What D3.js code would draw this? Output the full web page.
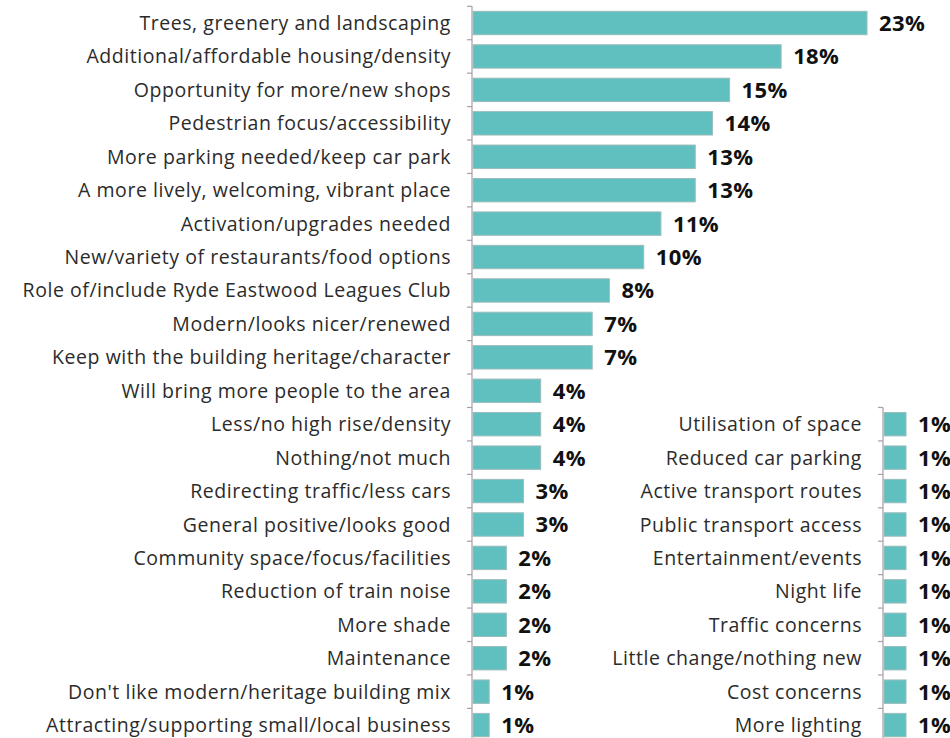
<!DOCTYPE html>
<html>
<head>
<meta charset="utf-8">
<script src="https://cdn.jsdelivr.net/npm/d3@7"></script>
<style>
  html, body { margin: 0; padding: 0; background: #fff; }
  svg { display: block; }
</style>
</head>
<body>
<svg id="chart" width="950" height="738"></svg>
<script>
// Responses, main list (percent of respondents)
const mainCategories = [
  "Trees, greenery and landscaping",
  "Additional/affordable housing/density",
  "Opportunity for more/new shops",
  "Pedestrian focus/accessibility",
  "More parking needed/keep car park",
  "A more lively, welcoming, vibrant place ",
  "Activation/upgrades needed",
  "New/variety of restaurants/food options",
  "Role of/include Ryde Eastwood Leagues Club",
  "Modern/looks nicer/renewed",
  "Keep with the building heritage/character",
  "Will bring more people to the area",
  "Less/no high rise/density",
  "Nothing/not much",
  "Redirecting traffic/less cars",
  "General positive/looks good",
  "Community space/focus/facilities",
  "Reduction of train noise",
  "More shade",
  "Maintenance",
  "Don't like modern/heritage building mix",
  "Attracting/supporting small/local business"
];
const mainValues = [23, 18, 15, 14, 13, 13, 11, 10, 8, 7, 7, 4, 4, 4, 3, 3, 2, 2, 2, 2, 1, 1];

// Responses, smaller mentions
const minorCategories = [
  "Utilisation of space",
  "Reduced car parking",
  "Active transport routes",
  "Public transport access",
  "Entertainment/events",
  "Night life",
  "Traffic concerns",
  "Little change/nothing new",
  "Cost concerns",
  "More lighting"
];
const minorValues = [1, 1, 1, 1, 1, 1, 1, 1, 1, 1];

const mainData = mainCategories.map((c, i) => ({ c, v: mainValues[i] }));
const minorData = minorCategories.map((c, i) => ({ c, v: minorValues[i] }));

const svg = d3.select("#chart");
const FONT = "'Open Sans', 'DejaVu Sans', sans-serif";
const BAR_FILL = "#60c0bf";
const BAR_STROKE = "#9bbcbc";
const AXIS_COLOR = "#a99ea6";

const rangeStart = 6.3, rangeEnd = 741.8;
const y = d3.scaleBand().domain(mainCategories).range([rangeStart, rangeEnd])
  .paddingInner(0.3).paddingOuter(0.15);
const step = y.step();

// second column starts alongside row 13 of the main list
const yMinorStart = rangeStart + 12 * step;
const yMinor = d3.scaleBand().domain(minorCategories).range([yMinorStart, rangeEnd])
  .paddingInner(0.3).paddingOuter(0.15);

const x = d3.scaleLinear().domain([0, 23]).range([472, 867]);
const xMinor = d3.scaleLinear().domain([0, 1]).range([883, 906]);

function panel(data, ys, xs, startY) {
  const g = svg.append("g");
  const x0 = xs(0);

  // axis spine with ticks between categories
  g.append("line")
    .attr("x1", x0).attr("x2", x0)
    .attr("y1", startY).attr("y2", rangeEnd)
    .attr("stroke", AXIS_COLOR).attr("stroke-width", 1.2);
  const bounds = d3.range(data.length + 1).map(i => startY + i * ys.step());
  g.selectAll("line.tick").data(bounds).join("line")
    .attr("class", "tick")
    .attr("x1", x0 - 5).attr("x2", x0)
    .attr("y1", d => d).attr("y2", d => d)
    .attr("stroke", AXIS_COLOR).attr("stroke-width", 1.2);

  g.selectAll("rect.bar").data(data).join("rect")
    .attr("class", "bar")
    .attr("x", x0 + 1)
    .attr("y", d => ys(d.c))
    .attr("width", d => xs(d.v) - x0 - 1)
    .attr("height", ys.bandwidth())
    .attr("fill", BAR_FILL)
    .attr("stroke", BAR_STROKE)
    .attr("stroke-width", 1);

  g.selectAll("text.cat").data(data).join("text")
    .attr("class", "cat")
    .attr("x", x0 - 21)
    .attr("y", d => ys(d.c) + ys.bandwidth() / 2)
    .attr("dy", "0.36em")
    .attr("text-anchor", "end")
    .attr("font-family", FONT)
    .attr("font-size", 19.5)
    .attr("letter-spacing", 0.55)
    .attr("fill", "#2b2b2b")
    .text(d => d.c);

  g.selectAll("text.val").data(data).join("text")
    .attr("class", "val")
    .attr("x", d => xs(d.v) + 12)
    .attr("y", d => ys(d.c) + ys.bandwidth() / 2)
    .attr("dy", "0.36em")
    .attr("font-family", FONT)
    .attr("font-weight", 700)
    .attr("font-size", 22)
    .attr("letter-spacing", 0.4)
    .attr("fill", "#111")
    .text(d => d.v + "%");
}

panel(mainData, y, x, rangeStart);
panel(minorData, yMinor, xMinor, yMinorStart);
</script>
</body>
</html>
